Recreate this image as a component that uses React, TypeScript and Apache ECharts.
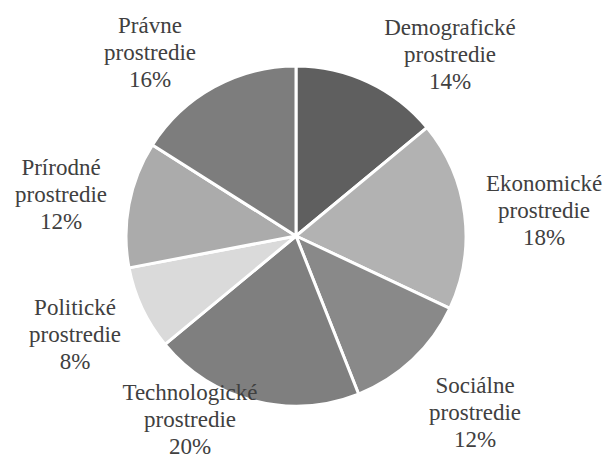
import React, { useEffect, useRef } from "react";
import * as echarts from "echarts";

const categories = [
  "Demografické prostredie",
  "Ekonomické prostredie",
  "Sociálne prostredie",
  "Technologické prostredie",
  "Politické prostredie",
  "Prírodné prostredie",
  "Právne prostredie",
];
const values = [14, 18, 12, 20, 8, 12, 16];
const colors = ["#5f5f5f", "#b2b2b2", "#898989", "#7f7f7f", "#dadada", "#ababab", "#7d7d7d"];

// label centre offsets from the pie centre (layout only)
const labelOffsets: [number, number][] = [
  [154, -182],
  [248, -26],
  [179, 176],
  [-106, 183],
  [-221, 98],
  [-235, -42],
  [-146, -184],
];

const CX = 296;
const CY = 236;
const R = 170;
const FONT = "Liberation Serif";

export default function App() {
  const ref = useRef<HTMLDivElement>(null);
  useEffect(() => {
    if (!ref.current) return;
    const chart = echarts.init(ref.current, undefined, { renderer: "svg" });
    chart.setOption({
      animation: false,
      backgroundColor: "#ffffff",
      series: [
        {
          type: "pie",
          center: [CX, CY],
          radius: [0, R],
          startAngle: 90,
          clockwise: true,
          z: 2,
          data: categories.map((name, i) => ({
            name,
            value: values[i],
            itemStyle: { color: colors[i] },
          })),
          itemStyle: { borderColor: "#ffffff", borderWidth: 3 },
          label: { show: false },
          labelLine: { show: false },
          emphasis: { disabled: true },
        },
      ],
      graphic: categories.map((name, i) => ({
        type: "text",
        x: CX + labelOffsets[i][0],
        y: CY + labelOffsets[i][1],
        z: 100,
        silent: true,
        style: {
          text: `${name.replace(" ", "\n")}\n${values[i]}%`,
          fontFamily: FONT,
          fontSize: 23,
          lineHeight: 27,
          fill: "#404040",
          align: "center",
          verticalAlign: "middle",
        },
      })),
    });
    return () => chart.dispose();
  }, []);
  return (
    <div
      ref={ref}
      style={{ position: "fixed", left: 0, top: 0, width: 606, height: 459 }}
    />
  );
}
